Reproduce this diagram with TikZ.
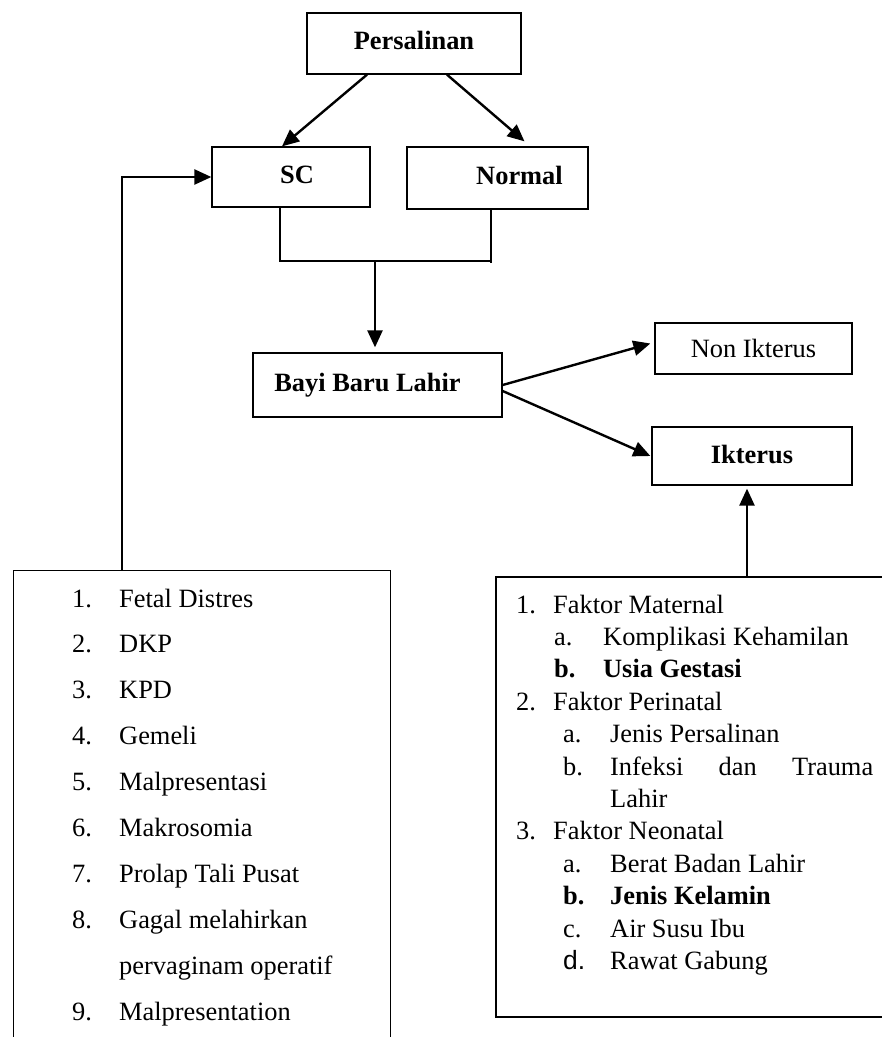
\documentclass[tikz,border=0pt]{standalone}
\usepackage{fontspec}
\setmainfont{Liberation Serif}
\newfontfamily\arialfam{Liberation Sans}
\usetikzlibrary{arrows.meta}
\newcommand\mysize{\fontsize{26.4}{32}\selectfont}
\begin{document}
\begin{tikzpicture}[x=1pt,y=-1pt,
  box/.style={draw, line width=1.3pt, inner sep=0pt, font=\mysize\bfseries, text height=18pt, text depth=6pt},
  arr/.style={line width=2.4pt, -{Triangle[length=17pt,width=15pt]}},
  thinline/.style={line width=1.3pt},
  item/.style={anchor=base west, inner sep=0pt, font=\mysize}]
\useasboundingbox (0,0) rectangle (882,1037);
\clip (0,0) rectangle (882,1037);
\fill[white] (0,0) rectangle (882,1037);

% top boxes
\node[box, minimum width=214pt, minimum height=61pt] (P) at (414,43.5) {Persalinan};
\node[box, minimum width=158pt, minimum height=60pt] (SC) at (291,177) {\hspace*{12pt}SC};
\node[box, minimum width=181pt, minimum height=62pt] (N) at (497.5,178) {\hspace*{44pt}Normal};
\node[box, minimum width=249pt, minimum height=64pt] (B) at (377.5,385) {Bayi Baru Lahir\hspace*{20pt}};
\node[box, font=\mysize, text depth=0pt, minimum width=197pt, minimum height=51pt] (NI) at (753.5,348.5) {Non Ikterus};
\node[box, text depth=4pt, minimum width=200pt, minimum height=58pt] (IK) at (752,456) {Ikterus};

% list boxes
\node[draw, thinline, inner sep=0pt, minimum width=377pt, minimum height=600pt, anchor=north west] (LB) at (13,570) {};
\node[draw, line width=2pt, inner sep=0pt, minimum width=500pt, minimum height=440pt, anchor=north west] (RB) at (495,576) {};

% connectors
\coordinate (bm) at (375,261);
\coordinate (sb) at ([xshift=-11pt]SC.south);
\coordinate (nb) at ([xshift=-6.5pt]N.south);
\coordinate (ub) at (747,577);
\coordinate (lc) at (122,570);

\draw[arr] ([xshift=-47pt]P.south) -- ([xshift=-9pt]SC.north);
\draw[arr] ([xshift=33pt]P.south) -- ([xshift=27pt,yshift=5pt]N.north);
\draw[thinline] (sb) |- (nb |- bm);
\draw[thinline] (nb) -- ([yshift=-2pt]nb |- bm);
\draw[arr] (bm) -- ([yshift=5pt]bm |- B.north);
\draw[arr] (B.east) -- ([xshift=-4pt,yshift=5pt]NI.west);
\draw[arr] ([yshift=-6pt]B.east) -- ([xshift=-1pt]IK.west);
\draw[arr] (ub) -- ([yshift=-3pt]ub |- IK.south);
\draw[arr] (lc) |- (SC.west);

% left list
\node[item] (l1) at (72,607) {\makebox[47pt][l]{1.}Fetal Distres};
\node[item] (l2) at (72,652.9) {\makebox[47pt][l]{2.}DKP};
\node[item] (l3) at (72,698.8) {\makebox[47pt][l]{3.}KPD};
\node[item] (l4) at (72,744.7) {\makebox[47pt][l]{4.}Gemeli};
\node[item] (l5) at (72,790.6) {\makebox[47pt][l]{5.}Malpresentasi};
\node[item] (l6) at (72,836.5) {\makebox[47pt][l]{6.}Makrosomia};
\node[item] (l7) at (72,882.4) {\makebox[47pt][l]{7.}Prolap Tali Pusat};
\node[item] (l8) at (72,928.3) {\makebox[47pt][l]{8.}Gagal melahirkan};
\node[item] (l8b) at (119,974.2) {pervaginam operatif};
\node[item] (l9) at (72,1020.1) {\makebox[47pt][l]{9.}Malpresentation};

% right list
\node[item] (r1) at (516,613) {\makebox[37pt][l]{1.}Faktor Maternal};
\node[item] (r1a) at (554,645.4) {\makebox[49pt][l]{a.}Komplikasi Kehamilan};
\node[item, font=\mysize\bfseries] (r1b) at (554,677.8) {\makebox[49pt][l]{b.}Usia Gestasi};
\node[item] (r2) at (516,710.2) {\makebox[37pt][l]{2.}Faktor Perinatal};
\node[item] (r2a) at (563,742.6) {\makebox[47pt][l]{a.}Jenis Persalinan};
\node[item] (r2b) at (563,775) {\makebox[47pt][l]{b.}\makebox[263pt][l]{Infeksi\hfill dan\hfill Trauma}};
\node[item] (r2c) at (610,807.4) {Lahir};
\node[item] (r3) at (516,839.8) {\makebox[37pt][l]{3.}Faktor Neonatal};
\node[item] (r3a) at (563,872.2) {\makebox[47pt][l]{a.}Berat Badan Lahir};
\node[item, font=\mysize\bfseries] (r3b) at (563,904.6) {\makebox[47pt][l]{b.}Jenis Kelamin};
\node[item] (r3c) at (563,937) {\makebox[47pt][l]{c.}Air Susu Ibu};
\node[item] (r3d) at (563,969.4) {\makebox[47pt][l]{\arialfam d.}Rawat Gabung};
\end{tikzpicture}
\end{document}
